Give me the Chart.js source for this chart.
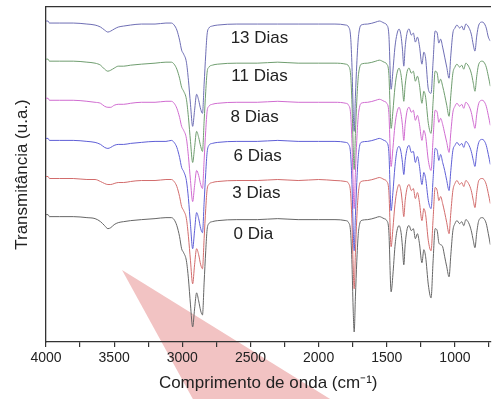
<!DOCTYPE html>
<html><head><meta charset="utf-8">
<script src="https://cdn.jsdelivr.net/npm/chart.js@4.4.1/dist/chart.umd.min.js"></script>
<style>html,body{margin:0;padding:0;background:#fff}canvas{display:block}</style>
</head><body>
<canvas id="c" width="492" height="399"></canvas>
<script>
// Wavenumbers (cm-1), shared by all spectra
const wavenumbers = [4000,3985,3975,3900,3800,3700,3640,3600,3570,3546,
3525,3500,3470,3430,3380,3300,3200,3120,3080,3060,
3040,3020,3005,2990,2970,2955,2940,2924,2910,2895,
2880,2865,2852,2840,2828,2818,2805,2780,2740,2600,
2450,2300,2150,2000,1880,1800,1780,1765,1755,1747,
1739,1730,1720,1710,1700,1688,1640,1580,1555,1520,
1500,1485,1468,1455,1440,1425,1410,1395,1385,1375,
1365,1350,1336,1320,1305,1290,1275,1260,1242,1228,
1215,1195,1175,1160,1145,1130,1118,1105,1090,1075,
1060,1043,1030,1015,1000,985,965,950,935,920,
900,880,865,853,840,825,800,787,770,755,740];

const seriesNames = ['13 Dias','11 Dias','8 Dias','6 Dias','3 Dias','0 Dia'];
// vertical stacking offsets (u.a.) of each spectrum
const offsets = [318, 280, 241, 201, 163, 125];

// transmittance of each spectrum relative to its own baseline (u.a.)
const t13 = [2,2,0,0,0,-1,-2,-4,-7,-9,
-8,-6,-4,-3,-2,-1,-1,0,0,-2,
-7,-17,-27,-31,-39,-57,-81,-103,-87,-71,
-77,-86,-90,-61,-31,-11,-5,-3,-2,-1,
-1,-1,-1,-1,-1,-2,-4,-14,-44,-84,
-108,-73,-41,-17,-6,-2,-1,1,2,0,
-2,-11,-66,-48,-24,-11,-6,-13,-26,-43,
-24,-9,-6,-12,-10,-19,-14,-23,-41,-29,
-35,-66,-70,-38,-8,-10,-20,-16,-24,-34,
-44,-55,-32,-10,-5,-2,-5,-3,-7,-1,
-4,-11,-22,-28,-13,-2,1,0,-5,-14,-18];
const t11 = [2,2,0,0,0,-1,-2,-4,-8,-10,
-9,-7,-5,-5,-4,-3,-2,-1,-1,-3,
-8,-17,-26,-30,-38,-56,-80,-101,-86,-70,
-76,-85,-90,-60,-30,-11,-6,-4,-3,-2,
-2,-1,-2,-2,-2,-3,-5,-14,-43,-82,
-108,-72,-40,-17,-7,-3,-2,0,1,-1,
-3,-12,-67,-50,-26,-12,-7,-14,-26,-40,
-24,-10,-7,-12,-10,-20,-15,-24,-42,-30,
-36,-62,-72,-40,-10,-12,-22,-18,-25,-34,
-44,-55,-34,-12,-6,-3,-6,-4,-8,-2,
-5,-12,-22,-30,-15,-3,0,-1,-6,-15,-25];
const t8 = [2,2,0,0,0,-1,-2,-3,-6,-7,
-7,-5,-4,-4,-3,-2,-2,-1,-1,-3,
-8,-17,-26,-30,-38,-56,-80,-101,-85,-70,
-75,-84,-88,-60,-30,-11,-6,-4,-3,-2,
-2,-1,-2,-2,-2,-3,-5,-14,-43,-82,
-108,-72,-40,-17,-7,-3,-2,0,1,-1,
-3,-12,-66,-48,-25,-12,-7,-14,-25,-40,
-24,-10,-7,-12,-10,-20,-15,-24,-40,-30,
-36,-60,-70,-38,-10,-12,-22,-18,-24,-33,
-42,-52,-32,-12,-6,-3,-6,-4,-8,-2,
-5,-12,-22,-28,-14,-3,0,-1,-6,-15,-25];
const t6 = [2,2,0,0,0,-1,-2,-4,-7,-8,
-7,-5,-4,-4,-3,-2,-1,-1,0,-2,
-7,-17,-27,-31,-40,-58,-84,-108,-90,-72,
-78,-88,-92,-62,-32,-12,-5,-3,-2,-1,
-1,0,-1,-1,-1,-2,-4,-14,-44,-85,
-110,-75,-42,-18,-6,-2,-1,1,2,0,
-2,-11,-70,-52,-26,-10,-6,-12,-22,-34,
-20,-8,-5,-12,-11,-22,-16,-26,-44,-32,
-38,-60,-68,-38,-8,-10,-20,-14,-22,-30,
-40,-50,-30,-10,-5,-2,-5,-3,-7,-1,
-4,-11,-20,-26,-12,-2,1,0,-5,-14,-24];
const t3 = [2,2,0,0,0,-1,-1,-3,-5,-6,
-6,-5,-4,-4,-3,-2,-2,-1,-1,-3,
-8,-18,-28,-32,-40,-58,-82,-105,-86,-70,
-76,-86,-90,-60,-30,-11,-6,-4,-3,-2,
-2,-1,-2,-1,-2,-3,-5,-15,-45,-85,
-110,-74,-40,-17,-6,-3,-2,0,1,-1,
-3,-12,-68,-50,-26,-12,-6,-13,-25,-38,
-22,-9,-6,-12,-10,-20,-14,-24,-42,-30,
-36,-62,-72,-40,-9,-12,-22,-18,-25,-34,
-44,-55,-34,-12,-5,-2,-6,-4,-8,-2,
-5,-12,-22,-29,-14,-2,0,-1,-6,-15,-25];
const t0 = [2,2,0,0,0,-1,-2,-5,-9,-12,
-11,-8,-6,-5,-4,-3,-2,-1,-1,-3,
-9,-20,-32,-36,-44,-62,-88,-110,-92,-76,
-84,-94,-98,-66,-34,-13,-7,-5,-4,-3,
-3,-2,-3,-3,-3,-4,-6,-16,-48,-90,
-115,-80,-45,-19,-8,-4,-3,-1,0,-2,
-4,-14,-75,-58,-30,-14,-9,-16,-30,-48,
-28,-12,-9,-14,-12,-22,-17,-27,-46,-33,
-40,-68,-81,-44,-12,-14,-26,-28,-30,-40,
-50,-60,-38,-14,-7,-4,-7,-5,-9,-3,
-6,-14,-24,-31,-16,-4,-1,-2,-7,-17,-28];
const seriesValues = [t13, t11, t8, t6, t3, t0];

const xTickValues = [4000,3750,3500,3250,3000,2750,2500,2250,2000,1750,1500,1250,1000,750];
const xTickLabels = [4000,3500,3000,2500,2000,1500,1000];

const lineColors = ['#6e6eb4','#6f9d6f','#d06cd0','#5f5fd6','#d26c6c','#666666'];

const FONT = '"Liberation Sans", Arial, Helvetica, sans-serif';

const datasets = seriesNames.map((name, i) => ({
  label: name,
  data: wavenumbers.map((w, j) => ({x: w, y: offsets[i] + seriesValues[i][j]})),
  borderColor: lineColors[i],
  borderWidth: 1,
  pointRadius: 0,
  fill: false,
  cubicInterpolationMode: 'monotone'
}));

const decoPlugin = {
  id: 'deco',
  beforeDraw(chart) {
    const {ctx, width, height} = chart;
    ctx.save();
    ctx.fillStyle = '#f2c3c3';
    ctx.beginPath();
    ctx.moveTo(width * 0.248, height * 0.677);
    ctx.lineTo(width * 0.671, height * 1.0);
    ctx.lineTo(width * 0.392, height * 1.0);
    ctx.closePath();
    ctx.fill();
    ctx.restore();
  }
};

const labelPlugin = {
  id: 'seriesLabels',
  afterDatasetsDraw(chart, args, opts) {
    const {ctx, scales: {x, y}} = chart;
    ctx.save();
    ctx.font = '17px ' + FONT;
    ctx.fillStyle = '#222';
    ctx.textAlign = 'center';
    ctx.textBaseline = 'middle';
    opts.spots.forEach((p, i) => {
      ctx.fillText(seriesNames[i], x.getPixelForValue(p[0]), y.getPixelForValue(p[1]));
    });
    ctx.restore();
  }
};

new Chart(document.getElementById('c'), {
  type: 'line',
  data: { datasets },
  plugins: [decoPlugin, labelPlugin],
  options: {
    responsive: false,
    animation: false,
    devicePixelRatio: 1,
    layout: { padding: { top: 7, right: 0, bottom: 0, left: 0 } },
    plugins: {
      legend: { display: false },
      tooltip: { enabled: false },
      seriesLabels: { spots: [[2434,303],[2434,265],[2470,224],[2448,185],[2456,148],[2478,107]] }
    },
    scales: {
      x: {
        type: 'linear',
        reverse: true,
        min: 740,
        max: 4000,
        afterBuildTicks: (scale) => { scale.ticks = xTickValues.map(v => ({value: v})); },
        ticks: {
          autoSkip: false,
          maxRotation: 0,
          padding: 3,
          color: '#222',
          font: { family: FONT, size: 14 },
          callback: (v) => xTickLabels.includes(v) ? String(v) : ''
        },
        grid: { display: true, drawOnChartArea: false, drawTicks: true, tickLength: 5, color: '#333', lineWidth: 1.2 },
        border: { display: true, color: '#333', width: 1.3 },
        title: {
          display: true,
          text: 'Comprimento de onda (cm\u207B\u00B9)',
          color: '#222',
          font: { family: FONT, size: 17 },
          padding: { top: 3, bottom: 5.8 }
        }
      },
      xTop: {
        type: 'linear',
        position: 'top',
        display: true,
        ticks: { display: false },
        grid: { display: false, drawTicks: false, tickLength: 0 },
        border: { display: true, color: '#333', width: 1.3 }
      },
      y: {
        type: 'linear',
        min: 0,
        max: 334,
        ticks: { display: false },
        grid: { display: false, drawTicks: false, tickLength: 0 },
        border: { display: true, color: '#333', width: 1.3 },
        title: {
          display: true,
          text: 'Transmitância (u.a.)',
          color: '#222',
          font: { family: FONT, size: 17 },
          padding: { top: 12.3, bottom: 13.3 }
        }
      }
    }
  }
});
</script>
</body></html>
